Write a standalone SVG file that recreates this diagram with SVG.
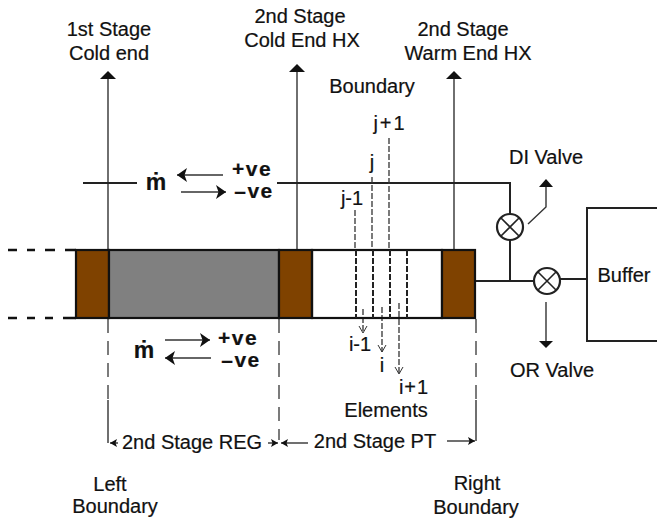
<svg xmlns="http://www.w3.org/2000/svg" width="657" height="519" viewBox="0 0 657 519">
<defs>
<marker id="ah" markerUnits="userSpaceOnUse" markerWidth="12" markerHeight="16" refX="10" refY="8" orient="auto"><path d="M0 1L10 8L0 15L2.5 8Z" fill="#111"/></marker>
<marker id="sm" markerUnits="userSpaceOnUse" markerWidth="10" markerHeight="10" refX="8" refY="5" orient="auto"><path d="M1 1L8 5L1 9" fill="none" stroke="#333" stroke-width="1"/></marker>
<marker id="dim" markerUnits="userSpaceOnUse" markerWidth="8" markerHeight="10" refX="7" refY="5" orient="auto"><path d="M0 1L7 5L0 9L1.5 5Z" fill="#111"/></marker>
</defs>
<style>
text{font-family:"Liberation Sans",Arial,sans-serif;font-size:20px;fill:#111;stroke:#111;stroke-width:.2;text-anchor:middle}
.big{font-weight:bold;font-size:23px}
.sg{font-weight:bold;font-size:21px;letter-spacing:1.5px}
.l{fill:none;stroke:#222;stroke-width:2}
.t{fill:none;stroke:#333;stroke-width:1.4}
.d{fill:none;stroke:#444;stroke-width:1.4;stroke-dasharray:14 8}
.e{fill:none;stroke:#333;stroke-width:1.3;stroke-dasharray:6 2}
.f{fill:none;stroke:#222;stroke-width:2;stroke-dasharray:6 2}
.h{fill:none;stroke:#111;stroke-width:2.5}
.r{stroke:#111;stroke-width:2.2}
.v{fill:#fff;stroke:#222;stroke-width:2.2}
.x{stroke:#222;stroke-width:1.6}
.a{fill:#111}
</style>
<g id="connectors">
<path class="t" d="M108 250V78"/><path class="a" d="M108 71L116 79H100Z"/>
<path class="t" d="M297 250V71"/><path class="a" d="M297 64L305 72H289Z"/>
<path class="t" d="M454 250V78"/><path class="a" d="M454 71L462 79H446Z"/>
<path class="l" d="M83 183H137M277 183H510V214"/>
<path class="l" d="M510 240V281M475 281H534M560 279H587"/>
<path class="h" d="M8 250H17M27 250H35M45 250H55M65 250H76"/>
<path class="h" d="M8 318H17M27 318H35M45 318H53M63 318H76"/>
<path class="t" d="M528 224L546 207V186"/><path class="a" d="M546 179L553 187H539Z"/>
<path class="t" d="M546 302V341"/><path class="a" d="M546 348L539 341H553Z"/>
<path class="e" d="M355 210V250M372 177V250M389 138V250"/>
<path class="e" d="M363 309V333" marker-end="url(#sm)"/>
<path class="e" d="M382 307V352" marker-end="url(#sm)"/>
<path class="e" d="M399 303V374" marker-end="url(#sm)"/>
<path class="d" d="M108 319V400M279 319V440M476 319V400"/>
<path class="t" d="M108 400V443M476 400V441"/>
<path class="t" d="M118 443H110" marker-end="url(#dim)"/>
<path class="t" d="M268 443H278" marker-end="url(#dim)"/>
<path class="t" d="M308 443H281" marker-end="url(#dim)"/>
<path class="t" d="M447 441H475" marker-end="url(#dim)"/>
<path class="t" d="M223 175H177" marker-end="url(#ah)"/>
<path class="t" d="M181 192H226" marker-end="url(#ah)"/>
<path class="t" d="M165 340H210" marker-end="url(#ah)"/>
<path class="t" d="M211 358H165" marker-end="url(#ah)"/>
</g>
<g id="stage-1-hx"><rect class="r" x="76" y="250" width="33" height="68" fill="#7f4200"/></g>
<g id="regenerator"><rect class="r" x="109" y="250" width="170" height="68" fill="#808080"/></g>
<g id="stage-2-cold-hx"><rect class="r" x="279" y="250" width="33" height="68" fill="#7f4200"/></g>
<g id="pulse-tube"><rect class="r" x="312" y="250" width="130" height="68" fill="none"/>
<path class="f" d="M356 250V318M373 250V318M390 250V318M407 250V318"/></g>
<g id="stage-2-warm-hx"><rect class="r" x="442" y="250" width="33" height="68" fill="#7f4200"/></g>
<g id="di-valve"><circle class="v" cx="510" cy="227" r="13"/><path class="x" d="M501 218L519 236M519 218L501 236"/><text x="546" y="164">DI Valve</text></g>
<g id="or-valve"><circle class="v" cx="547" cy="281" r="13"/><path class="x" d="M538 272L556 290M556 272L538 290"/><text x="552" y="377">OR Valve</text></g>
<g id="buffer"><path class="l" d="M657 208H587V341H657"/><text x="624" y="282">Buffer</text></g>
<g id="labels">
<text x="109" y="36">1st Stage</text><text x="109" y="60">Cold end</text>
<text x="300" y="23">2nd Stage</text><text x="302" y="47">Cold End HX</text>
<text x="463" y="36">2nd Stage</text><text x="468" y="60">Warm End HX</text>
<text x="372" y="93">Boundary</text>
<text x="390" y="130" letter-spacing="2">j+1</text><text x="372" y="169">j</text><text x="352" y="205">j-1</text>
<text x="360" y="351">i-1</text><text x="382" y="372">i</text><text x="414" y="394" letter-spacing="1">i+1</text>
<text x="386" y="417">Elements</text>
<text x="192" y="449">2nd Stage REG</text><text x="375" y="448">2nd Stage PT</text>
<text x="110" y="491">Left</text><text x="115" y="513">Boundary</text>
<text x="477" y="490">Right</text><text x="476" y="514">Boundary</text>
<text class="big" x="156" y="190">ṁ</text>
<text class="sg" x="252" y="176">+ve</text><text class="sg" x="254" y="198">–ve</text>
<text class="big" x="144" y="358">ṁ</text>
<text class="sg" x="238" y="345">+ve</text><text class="sg" x="241" y="367">–ve</text>
</g>
</svg>
